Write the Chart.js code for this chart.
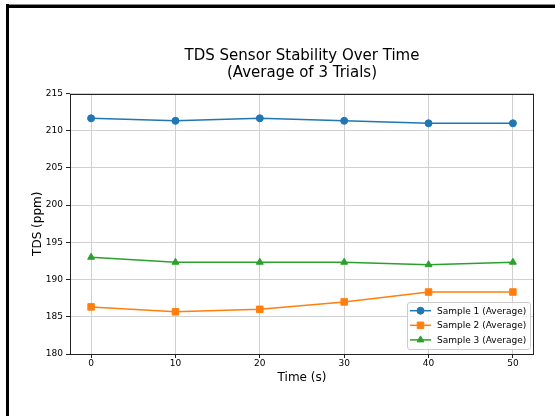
<!DOCTYPE html>
<html>
<head>
<meta charset="utf-8">
<script src="https://cdn.jsdelivr.net/npm/chart.js@4.4.0/dist/chart.umd.min.js"></script>
<style>
  html, body { margin: 0; padding: 0; background: #fff; }
  #wrap { position: relative; width: 555px; height: 416px; overflow: hidden; }
  .bar { position: absolute; background: #000; }
</style>
</head>
<body>
<div id="wrap">
  <canvas id="line-chart" width="555" height="416"></canvas>
  <div class="bar" style="left:6px; top:4px; width:549px; height:1px; background:#8a8a8a;"></div>
  <div class="bar" style="left:6px; top:5px; width:549px; height:3px;"></div>
  <div class="bar" style="left:6px; top:4px; width:3px; height:412px;"></div>
</div>
<script>
// time points (s)
const times = [0, 10, 20, 30, 40, 50];
// averages of 3 trials, ppm
const sample1 = [211.67, 211.33, 211.67, 211.33, 211.0, 211.0];
const sample2 = [186.33, 185.67, 186.0, 187.0, 188.33, 188.33];
const sample3 = [193.0, 192.33, 192.33, 192.33, 192.0, 192.33];
const seriesNames = ['Sample 1 (Average)', 'Sample 2 (Average)', 'Sample 3 (Average)'];
const xTicks = [0, 10, 20, 30, 40, 50];
const yTicks = [180, 185, 190, 195, 200, 205, 210, 215];

const FONT = "'DejaVu Sans', sans-serif";
const colors = ['#1f77b4', '#ff7f0e', '#2ca02c'];
const markers = ['circle', 'rect', 'triangle'];
const radii = [3.5, 4.6, 4.0];

function pts(vals) {
    return times.map((t, i) => ({ x: t, y: vals[i] }));
}

const datasets = [sample1, sample2, sample3].map((vals, i) => ({
    label: seriesNames[i],
    data: pts(vals),
    borderColor: colors[i],
    backgroundColor: colors[i],
    borderWidth: 1.5,
    pointStyle: markers[i],
    pointRadius: radii[i],
    pointHoverRadius: radii[i],
    pointBorderWidth: 1,
    pointBorderColor: colors[i],
    pointBackgroundColor: colors[i],
    fill: false,
    tension: 0
}));

// spines + matplotlib style legend
const mplExtras = {
    id: 'mplExtras',
    afterDatasetsDraw(chart) {
        const ctx = chart.ctx;
        const ca = chart.chartArea;
        ctx.save();
        ctx.strokeStyle = '#222';
        ctx.lineWidth = 1;
        ctx.strokeRect(Math.round(ca.left) + 0.5, Math.round(ca.top) + 0.5,
            Math.round(ca.right - ca.left) - 1, Math.round(ca.bottom - ca.top) - 1);

        // legend box, lower right
        const w = 123, h = 47;
        const bx = ca.right - 4 - w, by = ca.bottom - 5 - h;
        ctx.beginPath();
        ctx.roundRect(bx + 0.5, by + 0.5, w, h, 2.5);
        ctx.fillStyle = 'rgba(255,255,255,0.8)';
        ctx.fill();
        ctx.strokeStyle = '#cccccc';
        ctx.stroke();

        ctx.font = '9px ' + FONT;
        ctx.textBaseline = 'middle';
        ctx.textAlign = 'left';
        for (let i = 0; i < seriesNames.length; i++) {
            const ry = by + 8.7 + i * 14.6;
            ctx.strokeStyle = colors[i];
            ctx.fillStyle = colors[i];
            ctx.lineWidth = 1.5;
            ctx.beginPath();
            ctx.moveTo(bx + 3, ry);
            ctx.lineTo(bx + 24, ry);
            ctx.stroke();
            ctx.lineWidth = 1;
            Chart.helpers.drawPoint(ctx, { pointStyle: markers[i], radius: radii[i], borderWidth: 1, rotation: 0 }, bx + 13.5, ry);
            ctx.fillStyle = '#000';
            ctx.fillText(seriesNames[i], bx + 30, ry + 0.5);
        }
        ctx.restore();
    }
};

new Chart(document.getElementById('line-chart'), {
    type: 'line',
    data: { datasets: datasets },
    options: {
        responsive: false,
        animation: false,
        events: [],
        layout: { padding: { left: 0, right: 21, top: 0, bottom: 0 } },
        plugins: {
            legend: { display: false },
            tooltip: { enabled: false },
            title: {
                display: true,
                fullSize: false,
                text: ['TDS Sensor Stability Over Time', '(Average of 3 Trials)'],
                color: '#000',
                font: { family: FONT, size: 15, weight: 'normal', lineHeight: 1.1 },
                padding: { top: 48, bottom: 12.5 }
            }
        },
        scales: {
            x: {
                type: 'linear',
                min: -2.5,
                max: 52.5,
                afterBuildTicks: (scale) => { scale.ticks = xTicks.map(v => ({ value: v })); },
                afterFit: (scale) => { scale.height = 62; },
                ticks: { color: '#000', font: { family: FONT, size: 9, lineHeight: 1 }, padding: 1, maxRotation: 0 },
                grid: { color: '#d0d0d0', lineWidth: 1, tickColor: '#222', tickLength: 4 },
                border: { display: false },
                title: {
                    display: true, text: 'Time (s)', color: '#000',
                    font: { family: FONT, size: 12, lineHeight: 1.2 },
                    padding: { top: 0, bottom: 31 }
                }
            },
            y: {
                type: 'linear',
                min: 180,
                max: 215,
                afterBuildTicks: (scale) => { scale.ticks = yTicks.map(v => ({ value: v })); },
                afterFit: (scale) => { scale.width = 70; },
                ticks: { color: '#000', font: { family: FONT, size: 9 }, padding: 3 },
                grid: { color: '#d0d0d0', lineWidth: 1, tickColor: '#222', tickLength: 4 },
                border: { display: false },
                title: {
                    display: true, text: 'TDS (ppm)', color: '#000',
                    font: { family: FONT, size: 12, lineHeight: 1.2 },
                    padding: { top: 31, bottom: 0 }
                }
            }
        }
    },
    plugins: [mplExtras]
});
</script>
</body>
</html>
